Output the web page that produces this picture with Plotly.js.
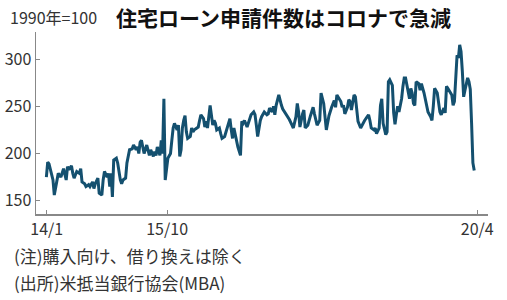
<!DOCTYPE html>
<html>
<head>
<meta charset="utf-8">
<script src="https://cdn.plot.ly/plotly-3.0.1.min.js"></script>
<style>
html,body{margin:0;padding:0;background:#fff;}
#chart{width:507px;height:300px;}
</style>
</head>
<body>
<div id="chart"></div>
<script>
// Weekly index (1990 = 100); week offset from 2014-01-01
const weeks = [0,1,2,5,6,8,9,11,12,13,15,16,17,19,20,21,23,25,26,27,29,30,32,33,35,36,37,39,40,42,43,44,46,47,48,49,50,51,53,54,56,57,58,60,61,63,65,66,68,69,70,71,72,73,74,76,77,78,79,81,82,83,84,86,87,88,89,90,92,94,95,96,97,99,100,101,102,103,104,105,106,107,109,110,111,112,114,115,116,117,119,120,121,122,124,125,126,127,128,129,131,132,133,135,136,138,139,140,141,142,144,145,147,148,149,150,152,153,154,155,157,158,159,160,162,163,165,167,168,169,171,172,173,174,176,177,178,179,181,182,183,184,186,187,189,190,191,192,194,195,196,198,200,202,203,205,207,208,210,211,212,214,215,216,218,219,220,221,223,224,225,226,228,229,230,231,233,234,235,236,238,239,240,241,243,244,245,246,248,249,250,252,253,254,255,257,258,259,260,262,263,264,265,266,267,269,270,271,272,274,275,276,277,278,279,280,282,283,284,286,287,288,289,291,292,293,294,296,297,298,299,301,302,303,304,306,307,308,309,311,312,313,314,315,316,317,319,320,321,322,323,324];
const values = [175,191,189,172,156,172,179,175,181,184,172,186,183,187,179,174,181,179,184,170,168,165,167,165,170,163,168,174,158,156,172,181,175,179,165,179,154,193,195,190,172,168,172,174,190,204,205,209,204,207,200,212,214,207,200,209,202,198,204,197,202,198,207,198,214,200,258,172,195,200,214,227,232,225,230,197,204,227,235,240,223,216,218,227,223,225,227,228,235,241,237,228,234,227,251,239,230,235,232,225,227,221,216,218,223,232,237,225,216,227,214,207,198,234,232,235,228,232,235,241,244,241,230,218,235,239,244,241,242,248,244,250,241,251,262,255,251,247,243,241,239,236,230,227,239,253,244,228,242,246,227,230,240,249,242,230,235,264,253,240,225,240,246,249,256,249,262,260,255,249,251,242,249,257,255,246,262,260,246,234,227,230,232,235,239,241,235,227,225,227,221,227,251,258,232,220,223,276,278,272,243,231,241,250,244,258,271,280,280,262,258,269,264,253,251,276,274,267,274,264,257,251,244,239,235,250,269,264,255,244,241,248,243,271,269,264,262,251,255,304,301,315,308,287,260,267,280,276,268,232,190,182];

const tickDates = ['2014-01-01','2015-10-01','2020-04-01'];
const tickLabels = ['14/1','15/10','20/4'];
const yTicks = [150,200,250,300];

const chartTitle = '住宅ローン申請件数はコロナで急減';
const unitLabel = '1990年=100';
const note1 = '(注)購入向け、借り換えは除く';
const note2 = '(出所)米抵当銀行協会(MBA)';

const start = new Date(Date.UTC(2013,11,30));
const dates = weeks.map(w => {
  const d = new Date(start.getTime() + w*7*86400000);
  return d.toISOString().slice(0,10);
});

const FONT = '"Noto Sans CJK JP", "Noto Sans", sans-serif';

const trace = {
  x: dates, y: values, type: 'scatter', mode: 'lines',
  line: {color: '#14506f', width: 3, shape: 'linear'},
  hoverinfo: 'skip'
};

const layout = {
  width: 507, height: 300,
  margin: {l: 36, r: 19, t: 32, b: 86, pad: 0},
  paper_bgcolor: '#fff', plot_bgcolor: '#fff',
  showlegend: false,
  font: {family: FONT, color: '#333', size: 16},
  xaxis: {
    type: 'date',
    range: ['2013-11-05','2020-05-28'],
    tickvals: tickDates, ticktext: tickLabels,
    ticks: 'inside', ticklen: 4, tickwidth: 1, tickcolor: '#888',
    showline: true, linecolor: '#888', linewidth: 1.5,
    showgrid: false, zeroline: false,
    tickfont: {family: FONT, size: 16, color: '#333'},
    fixedrange: true
  },
  yaxis: {
    range: [136, 328.6],
    tickvals: yTicks,
    ticks: 'inside', ticklen: 4, tickwidth: 1, tickcolor: '#888',
    showline: true, linecolor: '#888', linewidth: 1.5,
    showgrid: false, zeroline: false,
    tickfont: {family: FONT, size: 16, color: '#333'},
    fixedrange: true
  },
  annotations: [
    {text: chartTitle, xref: 'paper', yref: 'paper', x: 0.173, y: 1.082,
     xanchor: 'left', yanchor: 'middle', showarrow: false,
     font: {family: FONT, size: 21, color: '#111', weight: 'bold'}},
    {text: unitLabel, xref: 'paper', yref: 'paper', x: -0.062, y: 1.082,
     xanchor: 'left', yanchor: 'middle', showarrow: false,
     font: {family: FONT, size: 16, color: '#333'}},
    {text: note1, xref: 'paper', yref: 'paper', x: -0.053, y: -0.228,
     xanchor: 'left', yanchor: 'middle', showarrow: false,
     font: {family: FONT, size: 17, color: '#333'}},
    {text: note2, xref: 'paper', yref: 'paper', x: -0.053, y: -0.376,
     xanchor: 'left', yanchor: 'middle', showarrow: false,
     font: {family: FONT, size: 17, color: '#333'}}
  ]
};

Plotly.newPlot('chart', [trace], layout, {displayModeBar: false, staticPlot: true});
</script>
</body>
</html>
